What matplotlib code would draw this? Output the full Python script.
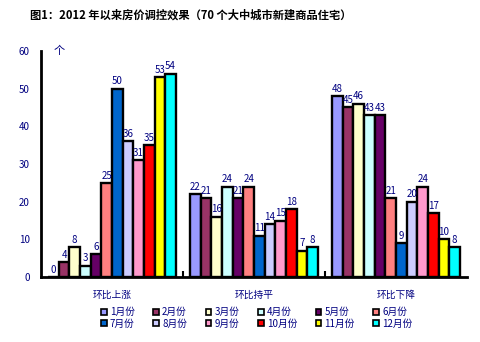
import numpy as np
import matplotlib.pyplot as plt
from matplotlib.patches import Rectangle

plt.rcParams['font.family'] = ['Noto Sans CJK SC', 'DejaVu Sans']

# 数据：70个大中城市新建商品住宅价格环比变化城市个数
categories = ['环比上涨', '环比持平', '环比下降']
months = ['1月份', '2月份', '3月份', '4月份', '5月份', '6月份',
          '7月份', '8月份', '9月份', '10月份', '11月份', '12月份']
rise = [0, 4, 8, 3, 6, 25, 50, 36, 31, 35, 53, 54]
flat = [22, 21, 16, 24, 21, 24, 11, 14, 15, 18, 7, 8]
fall = [48, 45, 46, 43, 43, 21, 9, 20, 24, 17, 10, 8]
colors = ['#9999FF', '#993366', '#FFFFCC', '#CCFFFF', '#660066', '#FF8080',
          '#0066CC', '#CCCCFF', '#FF99CC', '#FF0000', '#FFFF00', '#00FFFF']

navy = '#000080'
values = np.array([rise, flat, fall])  # 3 x 12

fig = plt.figure(figsize=(4.8, 3.42), dpi=100)
ax = fig.add_axes([0.0854, 0.19, 0.8875, 0.661])

n = len(months)
bw = 0.9 / n
x = np.arange(len(categories))
for i in range(n):
    pos = x - 0.45 + bw * (i + 0.5)
    ax.bar(pos, values[:, i], width=bw, color=colors[i],
           edgecolor='black', linewidth=1.7, zorder=2)
    for p, v in zip(pos, values[:, i]):
        ax.text(p, v + 0.6, str(v), ha='center', va='bottom',
                fontsize=7, color=navy, zorder=3)

ax.set_xlim(-0.5, 2.5)
ax.set_ylim(0, 60)
ax.set_yticks(range(0, 61, 10))
ax.set_xticks([0.5, 1.5])
ax.set_xticklabels([])
ax.tick_params(axis='x', length=4, width=1.5, direction='in')
ax.tick_params(axis='y', length=0, labelsize=7, labelcolor=navy, pad=8)
for s in ['top', 'right']:
    ax.spines[s].set_visible(False)
for s in ['left', 'bottom']:
    ax.spines[s].set_linewidth(2)

for xi, c in zip(x, categories):
    ax.text(xi, -3.5, c, ha='center', va='top', fontsize=7, color=navy)

ax.text(0.03, 60, '个', transform=ax.get_yaxis_transform(),
        ha='left', va='center', fontsize=8, color=navy)

fig.text(0.062, 0.955, '图1：2012 年以来房价调控效果（70 个大中城市新建商品住宅）',
         fontsize=8.1, fontweight='bold', ha='left', va='center')

# 图例：两行六列
order = [0, 6, 1, 7, 2, 8, 3, 9, 4, 10, 5, 11]
leg_handles = [Rectangle((0, 0), 1, 1, facecolor=colors[k], edgecolor='black',
                         linewidth=1.2) for k in order]
leg_labels = [months[k] for k in order]
leg = fig.legend(leg_handles, leg_labels, ncol=6, loc='center',
                 bbox_to_anchor=(0.535, 0.07), frameon=False,
                 fontsize=7, handlelength=0.6, handleheight=0.6,
                 handletextpad=0.3, columnspacing=1.9, labelspacing=0.15)
for t in leg.get_texts():
    t.set_color(navy)

fig.savefig('out.png', dpi=100)
